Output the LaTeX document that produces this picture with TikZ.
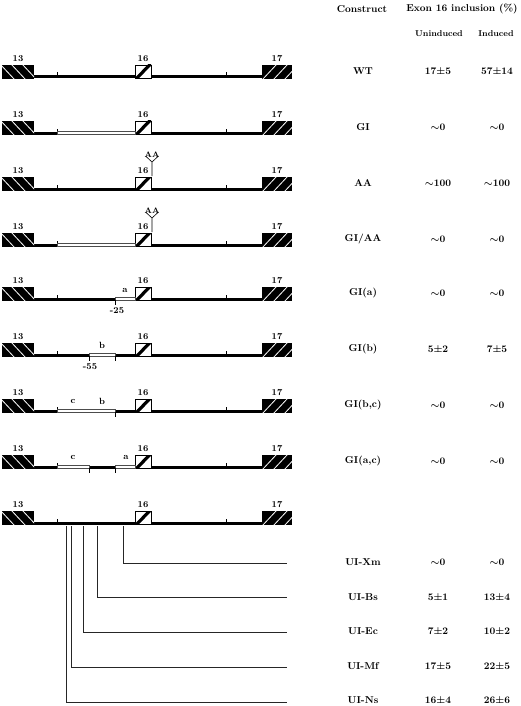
\documentclass[tikz,border=0pt]{standalone}
\tikzset{
  x=1pt, y=-1pt,
  hdr/.style={font=\bfseries\fontsize{10}{12}\selectfont, inner sep=0pt},
  sub/.style={font=\bfseries\fontsize{8.5}{10}\selectfont, inner sep=0pt},
  lbl/.style={font=\bfseries\fontsize{10}{11}\selectfont, inner sep=0pt},
  exl/.style={font=\bfseries\fontsize{9}{10}\selectfont, inner sep=0pt},
  tiny/.style={font=\bfseries\fontsize{8}{9}\selectfont, inner sep=0pt},
  genel/.style={line width=3pt},
  tk/.style={line width=0.7pt},
  conn/.style={line width=0.6pt, black!85},
  opn/.style={line width=0.45pt, draw=black!70, fill=white},
}
\newcommand\sm{{\boldmath$\sim$}}
% gene row: #1 = y of the line
\newcommand\generow[1]{%
  \draw[genel] (33,#1) -- (263,#1);
  \draw[tk] (57,#1) -- (57,#1-4.5);
  \draw[tk] (226,#1) -- (226,#1-4.5);
  % exon 13
  \begin{scope}
    \clip (2,#1-12) rectangle (34,#1+2);
    \fill (2,#1-12) rectangle (34,#1+2);
    \foreach \a in {0,11,22}
      \draw[white, line width=0.8pt] (\a,#1-13) -- (\a+15,#1+3);
  \end{scope}
  % exon 16
  \begin{scope}
    \clip (135,#1-12) rectangle (151,#1+1.5);
    \fill[white] (135,#1-12) rectangle (151,#1+1.5);
    \draw[line width=3.2pt] (135,#1+3) -- (151,#1-13.5);
  \end{scope}
  \draw[line width=0.8pt] (135,#1-12) rectangle (151,#1+1.5);
  % exon 17
  \begin{scope}
    \clip (262,#1-12) rectangle (292,#1+2);
    \fill (262,#1-12) rectangle (292,#1+2);
    \foreach \a in {262,273,284}
      \draw[white, line width=0.8pt] (\a,#1+3) -- (\a+15,#1-13);
  \end{scope}
  \node[exl] at (18,#1-18.5) {13};
  \node[exl] at (143,#1-18.5) {16};
  \node[exl] at (277,#1-18.5) {17};
}
\newcommand\opnseg[3]{\draw[opn] (#1,#3-1.3) rectangle (#2,#3+1.3);}
\newcommand\dtick[2]{\draw[tk] (#1,#2+1) -- (#1,#2+5.5);}
\newcommand\polyA[1]{%
  \draw[line width=0.6pt] (152,#1-13) -- (152,#1-27) -- (145.5,#1-33);
  \draw[line width=0.6pt] (152,#1-27) -- (158.5,#1-33);
  \node[tiny] at (152,#1-34) {AA};
}
\newcommand\trow[4]{%
  \node[lbl] at (363,#2) {#1};
  \node[lbl] at (438,#2) {#3};
  \node[lbl] at (497,#2) {#4};
}
\begin{document}
\begin{tikzpicture}
\useasboundingbox (0,0) rectangle (520,706);
% headers
\node[hdr] (hc) at (362,9) {Construct};
\node[hdr] (hx) at (462,9) {Exon 16 inclusion (\%)};
\node[sub] (hu) at (439,34) {Uninduced};
\node[sub] (hi) at (496,34) {Induced};

% gene rows
\generow{77}
\generow{133}
\generow{189}
\generow{245}
\generow{299}
\generow{355}
\generow{411}
\generow{467}
\generow{523}

% GI
\opnseg{57}{135}{133}
% AA
\polyA{189}
% GI/AA
\opnseg{57}{135}{245}
\polyA{245}
% GI(a)
\opnseg{115}{135}{299}
\dtick{115}{299}
\node[exl] at (125,290) {a};
\node[exl] at (117,311) {-25};
% GI(b)
\opnseg{89}{115}{355}
\dtick{89}{355}
\dtick{115}{355}
\node[exl] at (102,345) {b};
\node[exl] at (90,367) {-55};
% GI(b,c)
\opnseg{57}{115}{411}
\dtick{115}{411}
\node[exl] at (73,401) {c};
\node[exl] at (102,401) {b};
% GI(a,c)
\opnseg{57}{89}{467}
\opnseg{115}{135}{467}
\dtick{89}{467}
\dtick{115}{467}
\node[exl] at (73,457) {c};
\node[exl] at (126,457) {a};

% table rows
\trow{WT}{71}{17\textpm5}{57\textpm14}
\trow{GI}{127}{\sm0}{\sm0}
\trow{AA}{183}{\sm100}{\sm100}
\trow{GI/AA}{239}{\sm0}{\sm0}
\trow{GI(a)}{293}{\sm0}{\sm0}
\trow{GI(b)}{349}{5\textpm2}{7\textpm5}
\trow{GI(b,c)}{405}{\sm0}{\sm0}
\trow{GI(a,c)}{461}{\sm0}{\sm0}

% UI connectors
\coordinate (xm) at (123,526);
\coordinate (bs) at (97,526);
\coordinate (ec) at (83,526);
\coordinate (mf) at (71,526);
\coordinate (ns) at (66,526);
\coordinate (xme) at (287,563);
\coordinate (bse) at (287,597);
\coordinate (ece) at (287,632);
\coordinate (mfe) at (287,667);
\coordinate (nse) at (287,702);
\draw[conn] (xm) |- (xme);
\draw[conn] (bs) |- (bse);
\draw[conn] (ec) |- (ece);
\draw[conn] (mf) |- (mfe);
\draw[conn] (ns) |- (nse);

\trow{UI-Xm}{562}{\sm0}{\sm0}
\trow{UI-Bs}{597}{5\textpm1}{13\textpm4}
\trow{UI-Ec}{631}{7\textpm2}{10\textpm2}
\trow{UI-Mf}{666}{17\textpm5}{22\textpm5}
\trow{UI-Ns}{700}{16\textpm4}{26\textpm6}
\end{tikzpicture}
\end{document}
